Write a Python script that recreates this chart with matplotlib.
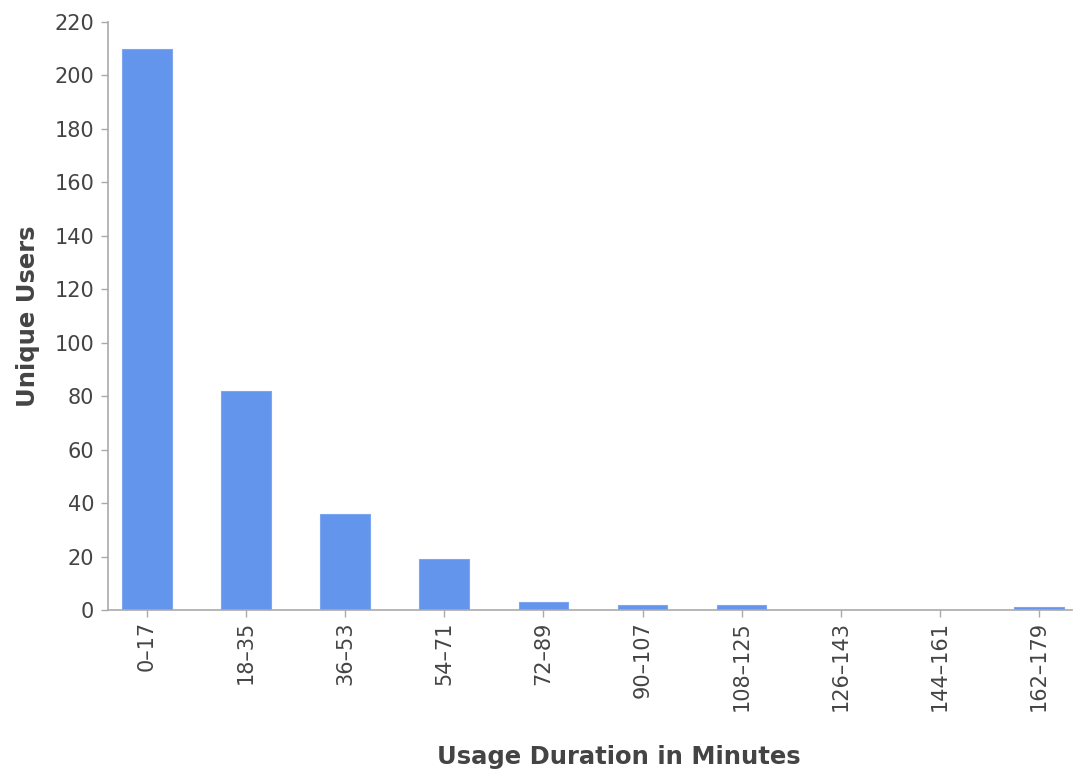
import matplotlib
matplotlib.use('Agg')
import matplotlib.pyplot as plt

# duration buckets and user counts
buckets = ['0\u201317', '18\u201335', '36\u201353', '54\u201371', '72\u201389',
           '90\u2013107', '108\u2013125', '126\u2013143', '144\u2013161', '162\u2013179']
users = [210, 82, 36, 19, 3, 2, 2, 0, 0, 1]

plt.rcParams['font.family'] = ['DejaVu Sans']

fig = plt.figure(figsize=(10.74, 7.71), dpi=100)
ax = fig.add_axes([0.1006, 0.2088, 0.8974, 0.7627])

x = list(range(len(buckets)))
ax.bar(x, users, width=0.5, color='#6495ed', edgecolor='#7ea6ee', linewidth=0.8, zorder=2)

ax.set_xlim(-0.39, 9.33)
ax.set_ylim(0, 220)
ax.set_yticks(range(0, 221, 20))
ax.set_xticks(x)
ax.set_xticklabels(buckets, rotation=90)

for side in ['top', 'right']:
    ax.spines[side].set_visible(False)
for side in ['left', 'bottom']:
    ax.spines[side].set_color('#aaaaaa')
    ax.spines[side].set_linewidth(1.2)

ax.tick_params(axis='both', colors='#aaaaaa', labelcolor='#444444', labelsize=15,
               length=5, width=1)
ax.tick_params(axis='x', pad=3)
ax.tick_params(axis='y', pad=5)

ax.set_ylabel('Unique Users', fontsize=17.5, fontweight='bold', color='#444444')
ax.set_xlabel('Usage Duration in Minutes', fontsize=17.5, fontweight='bold', color='#444444')
ax.yaxis.set_label_coords(-0.083, 0.5)
ax.xaxis.set_label_coords(0.53, -0.25)
ax.xaxis.label.set_va('center')
ax.yaxis.label.set_va('center')

fig.savefig('out.png', dpi=100)
